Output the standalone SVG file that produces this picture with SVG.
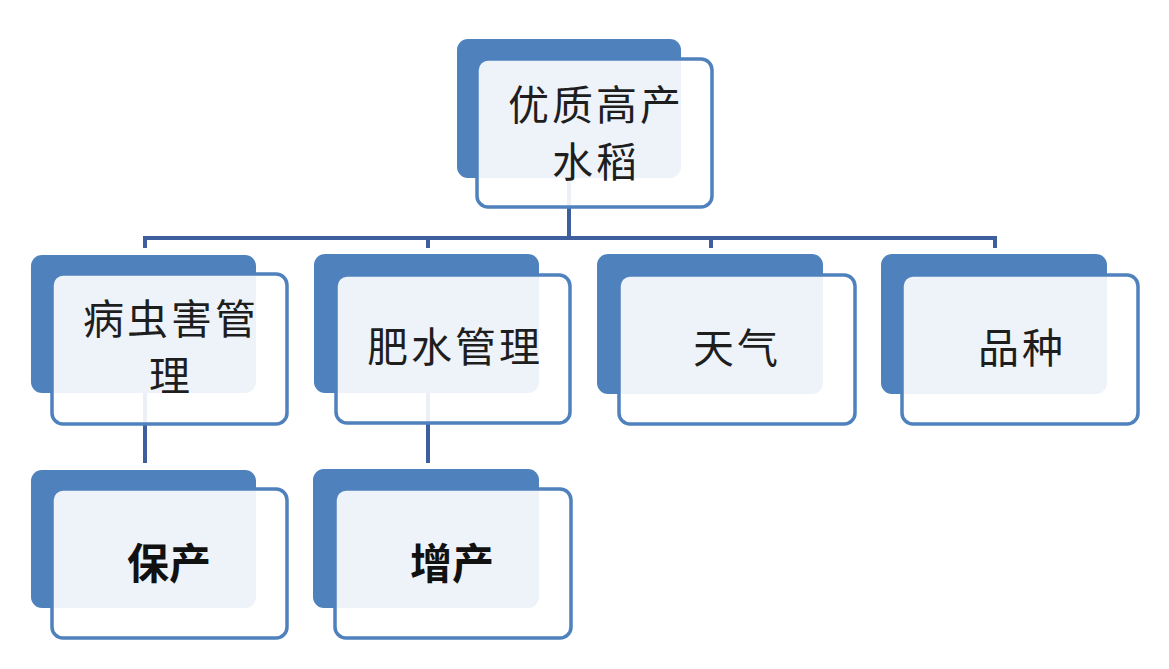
<svg xmlns="http://www.w3.org/2000/svg" width="1169" height="669" viewBox="0 0 1169 669">
<style>
.back{fill:#4f81bd;}
.front{fill:#ffffff;fill-opacity:0.9;stroke:#4f81bd;stroke-width:3.5;}
.conn{stroke:#3f5e9e;stroke-width:4;fill:none;}
.t{font-family:"Noto Sans CJK SC","Noto Sans",sans-serif;font-size:41px;fill:#1e1e1e;text-anchor:middle;letter-spacing:3px;}
.b{font-family:"Noto Sans CJK SC","Noto Sans",sans-serif;font-size:42px;font-weight:bold;fill:#111111;text-anchor:middle;}
</style>
<rect width="1169" height="669" fill="#ffffff"/>
<g id="connectors">
<line class="conn" x1="569" y1="178" x2="569" y2="238"/>
<line class="conn" x1="143" y1="238" x2="997" y2="238"/>
<line class="conn" x1="145" y1="236" x2="145" y2="248"/>
<line class="conn" x1="428" y1="236" x2="428" y2="248"/>
<line class="conn" x1="711" y1="236" x2="711" y2="248"/>
<line class="conn" x1="995" y1="236" x2="995" y2="248"/>
<line class="conn" x1="145" y1="393" x2="145" y2="463"/>
<line class="conn" x1="428" y1="393" x2="428" y2="463"/>
</g>
<g id="node-root">
<rect class="back" x="457" y="39" width="224" height="139" rx="11"/>
<rect class="front" x="477" y="59" width="235" height="148" rx="11"/>
<text class="t" x="596" y="120">优质高产<tspan x="596" dy="57">水稻</tspan></text>
</g>
<g id="node-pest">
<rect class="back" x="31" y="255" width="225" height="138" rx="11"/>
<rect class="front" x="52" y="274" width="235" height="150" rx="11"/>
<text class="t" x="171" y="334">病虫害管<tspan x="171" dy="57">理</tspan></text>
</g>
<g id="node-fert">
<rect class="back" x="314" y="254" width="225" height="139" rx="11"/>
<rect class="front" x="336" y="275" width="234" height="148" rx="11"/>
<text class="t" x="455" y="362">肥水管理</text>
</g>
<g id="node-weather">
<rect class="back" x="597" y="254" width="226" height="140" rx="11"/>
<rect class="front" x="619" y="275" width="236" height="149" rx="11"/>
<text class="t" x="737" y="363">天气</text>
</g>
<g id="node-variety">
<rect class="back" x="881" y="254" width="226" height="140" rx="11"/>
<rect class="front" x="902" y="275" width="236" height="149" rx="11"/>
<text class="t" x="1022" y="363">品种</text>
</g>
<g id="node-baochan">
<rect class="back" x="31" y="470" width="225" height="138" rx="11"/>
<rect class="front" x="52" y="489" width="235" height="149" rx="11"/>
<text class="b" x="169" y="579">保产</text>
</g>
<g id="node-zengchan">
<rect class="back" x="313" y="469" width="226" height="139" rx="11"/>
<rect class="front" x="335" y="489" width="236" height="149" rx="11"/>
<text class="b" x="452" y="579">增产</text>
</g>
</svg>
